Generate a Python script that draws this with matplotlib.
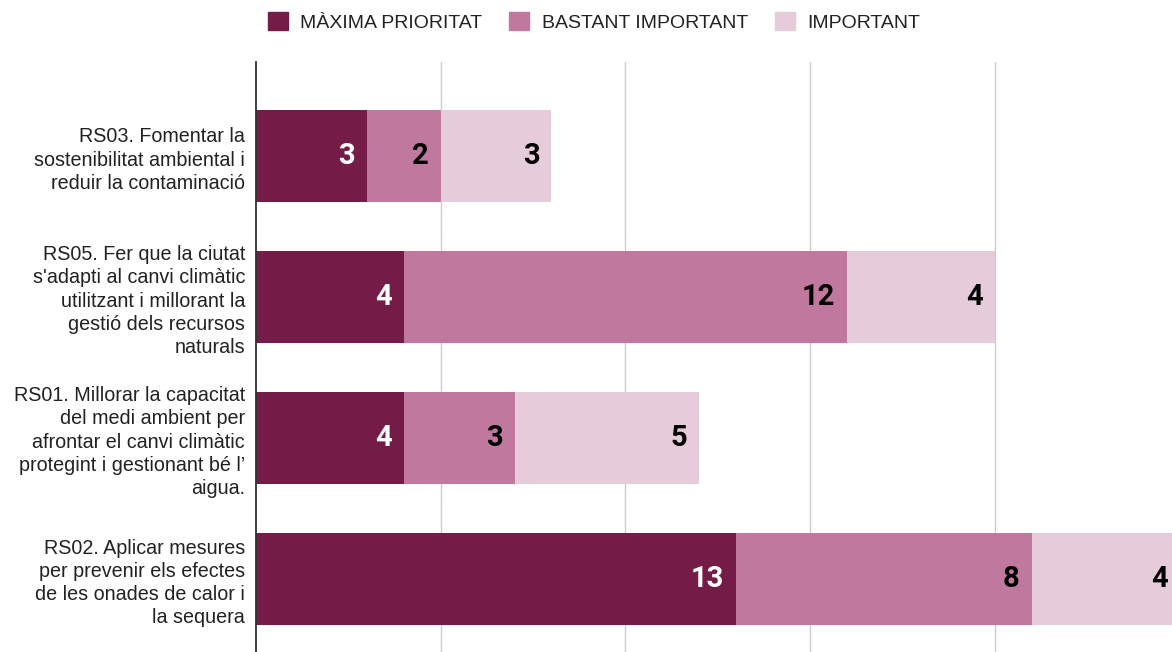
import matplotlib
matplotlib.use("Agg")
import matplotlib.pyplot as plt
from matplotlib.patches import Patch

categories = [
    "RS03. Fomentar la\nsostenibilitat ambiental i\nreduir la contaminació",
    "RS05. Fer que la ciutat\ns'adapti al canvi climàtic\nutilitzant i millorant la\ngestió dels recursos\nnaturals",
    "RS01. Millorar la capacitat\ndel medi ambient per\nafrontar el canvi climàtic\nprotegint i gestionant bé l’\naigua.",
    "RS02. Aplicar mesures\nper prevenir els efectes\nde les onades de calor i\nla sequera",
]
series_names = ["MÀXIMA PRIORITAT", "BASTANT IMPORTANT", "IMPORTANT"]
maxima = [3, 4, 4, 13]
bastant = [2, 12, 3, 8]
important = [3, 4, 5, 4]
series_values = [maxima, bastant, important]
colors = ["#741b47", "#c0789f", "#e6ccdb"]
label_colors = ["white", "black", "black"]

fig = plt.figure(figsize=(11.72, 6.52), dpi=100)
ax = fig.add_axes([256 / 1172, 0, 1 - 256 / 1172, 1 - 62 / 652])

y = list(range(len(categories)))
left = [0] * len(categories)
for vals, col, lc in zip(series_values, colors, label_colors):
    bars = ax.barh(y, vals, left=left, height=0.652, color=col, zorder=2)
    for b, v in zip(bars, vals):
        ax.annotate(str(v), xy=(b.get_x() + b.get_width(), b.get_y() + b.get_height() / 2),
                    xytext=(-8.5, 0), textcoords="offset points", ha="right", va="center",
                    fontsize=21, fontweight="bold", family="Roboto", color=lc, zorder=3,
                    annotation_clip=False)
    left = [l + v for l, v in zip(left, vals)]

ax.set_xlim(0, 24.80)
ax.set_ylim(3.518, -0.667)
ax.set_xticks([5, 10, 15, 20])
ax.set_xticklabels([])
ax.tick_params(axis="x", length=0)
ax.grid(axis="x", color="#cccccc", linewidth=1, zorder=1)
ax.set_yticks(y)
ax.set_yticklabels(categories, family="Liberation Sans", fontsize=14.2, color="#222222",
                   linespacing=1.28)
ax.tick_params(axis="y", length=0, pad=8)
for s in ["top", "right", "bottom"]:
    ax.spines[s].set_visible(False)
ax.spines["left"].set_color("#333333")
ax.spines["left"].set_linewidth(1.3)
ax.spines["left"].set_zorder(4)

handles = [Patch(facecolor=c, edgecolor=c) for c in colors]
fig.legend(handles, series_names, loc="center", bbox_to_anchor=(594 / 1172, 1 - 22 / 652),
           ncol=3, frameon=False, prop={"family": "Liberation Sans", "size": 14},
           handlelength=1.03, handleheight=1.03, handletextpad=0.62, columnspacing=1.39,
           labelcolor="#222222")

fig.savefig("out.png", dpi=100)
